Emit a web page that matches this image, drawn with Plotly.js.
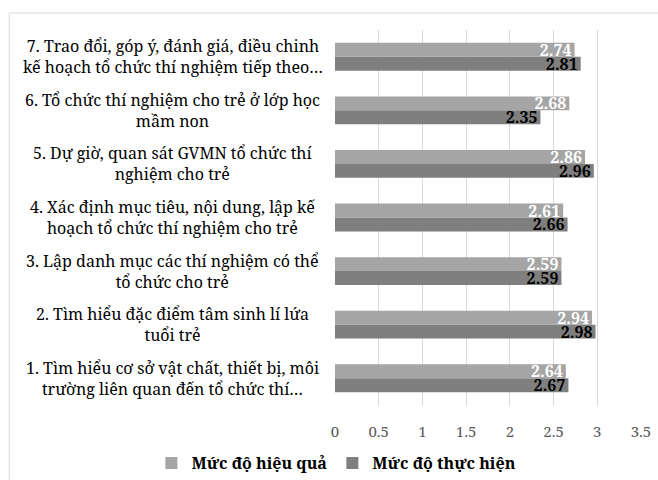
<!DOCTYPE html>
<html>
<head>
<meta charset="utf-8">
<script src="https://cdn.plot.ly/plotly-3.0.1.min.js"></script>
<style>
html,body{margin:0;padding:0;background:#fff;}
#chart{width:658px;height:480px;}
</style>
</head>
<body>
<div id="chart"></div>
<script>
var categories = [
  "1. Tìm hiểu cơ sở vật chất, thiết bị, môi<br>trường liên quan đến tổ chức thí…",
  "2. Tìm hiểu đặc điểm tâm sinh lí lứa<br>tuổi trẻ",
  "3. Lập danh mục các thí nghiệm có thể<br>tổ chức cho trẻ",
  "4. Xác định mục tiêu, nội dung, lập kế<br>hoạch tổ chức thí nghiệm cho trẻ",
  "5. Dự giờ, quan sát GVMN tổ chức thí<br>nghiệm cho trẻ",
  "6. Tổ chức thí nghiệm cho trẻ ở lớp học<br>mầm non",
  "7. Trao đổi, góp ý, đánh giá, điều chinh<br>kế hoạch tổ chức thí nghiệm tiếp theo…"
];
var catKeys = ["c1","c2","c3","c4","c5","c6","c7"];
var hieuQua = [2.64, 2.94, 2.59, 2.61, 2.86, 2.68, 2.74];
var thucHien = [2.67, 2.98, 2.59, 2.66, 2.96, 2.35, 2.81];
var seriesNames = ["Mức độ hiệu quả", "Mức độ thực hiện"];
var xTicks = [0, 0.5, 1, 1.5, 2, 2.5, 3, 3.5];

var FONT = "Noto Serif";

var traces = [
  {
    type: "bar", orientation: "h", name: seriesNames[1],
    y: catKeys, x: thucHien,
    marker: {color: "#7f7f7f"},
    text: thucHien.map(function(v){return v.toFixed(2);}),
    textposition: "inside", insidetextanchor: "end", textangle: 0,
    constraintext: "none",
    textfont: {family: FONT, size: 16, color: "#000000", weight: "bold"},
    hoverinfo: "none"
  },
  {
    type: "bar", orientation: "h", name: seriesNames[0],
    y: catKeys, x: hieuQua,
    marker: {color: "#a5a5a5"},
    text: hieuQua.map(function(v){return v.toFixed(2);}),
    textposition: "inside", insidetextanchor: "end", textangle: 0,
    constraintext: "none",
    textfont: {family: FONT, size: 16, color: "#ffffff", weight: "bold"},
    hoverinfo: "none"
  }
];

var annotations = categories.map(function(c, i){
  return {
    xref: "paper", yref: "y", x: -0.531, y: catKeys[i],
    xanchor: "center", yanchor: "middle", align: "center",
    text: c, showarrow: false,
    font: {family: FONT, size: 16, color: "#000000"}
  };
});

var layout = {
  width: 658, height: 480,
  margin: {l: 335, r: 17, t: 30, b: 75, autoexpand: false},
  paper_bgcolor: "#ffffff", plot_bgcolor: "#ffffff",
  font: {family: FONT},
  barmode: "group", bargap: 0.48, bargroupgap: 0,
  showlegend: true,
  legend: {
    orientation: "h",
    x: -0.600, xanchor: "left", y: -0.155, yanchor: "middle",
    traceorder: "reversed",
    font: {family: FONT, size: 16, color: "#000000", weight: "bold"}
  },
  xaxis: {
    range: [0, 3.5], tickvals: xTicks, ticktext: xTicks.map(String),
    showgrid: true, gridcolor: "#d9d9d9", gridwidth: 1,
    zeroline: false, showline: false,
    ticks: "outside", ticklen: 13, tickcolor: "#ffffff",
    tickfont: {family: FONT, size: 15, color: "#595959"}
  },
  yaxis: {
    type: "category", categoryorder: "array", categoryarray: catKeys,
    showticklabels: false, showgrid: false, zeroline: false, showline: false, ticks: ""
  },
  annotations: annotations,
  shapes: [{
    type: "rect", xref: "paper", yref: "paper",
    x0: -1.0646, x1: 1.2, y0: -0.25, y1: 1.0453,
    line: {color: "#d9d9d9", width: 1}, fillcolor: "rgba(0,0,0,0)", layer: "below"
  }]
};

Plotly.newPlot("chart", traces, layout, {displayModeBar: false, staticPlot: true});
</script>
</body>
</html>
